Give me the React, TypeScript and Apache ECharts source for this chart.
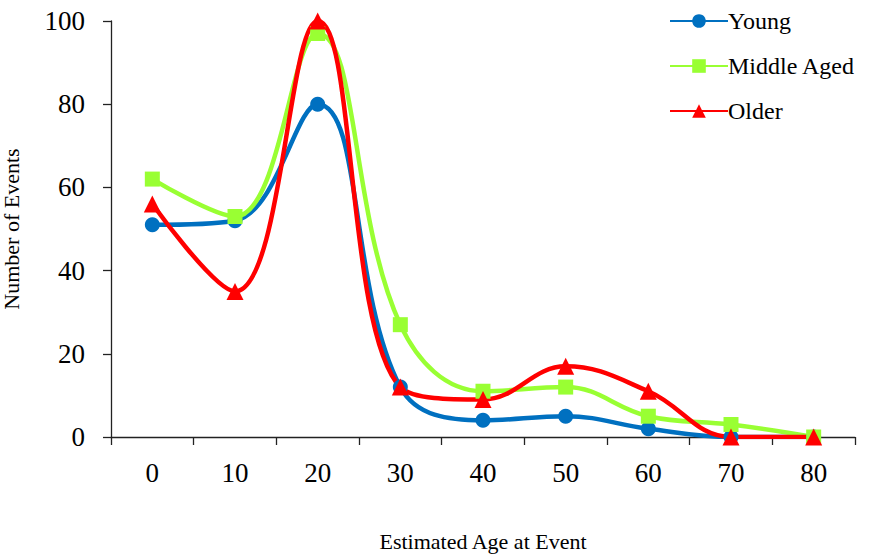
import React, { useEffect, useRef } from "react";
import * as echarts from "echarts";

const categories = ["0", "10", "20", "30", "40", "50", "60", "70", "80"];
const young = [51, 52, 80, 12, 4, 5, 2, 0, 0];
const middleAged = [62, 53, 97, 27, 11, 12, 5, 3, 0];
const older = [56, 35, 100, 12, 9, 17, 11, 0, 0];

const FONT = "Liberation Serif";

export default function App() {
  const ref = useRef<HTMLDivElement>(null);
  useEffect(() => {
    if (!ref.current) return;
    const chart = echarts.init(ref.current, undefined, { renderer: "svg" });
    const mk = (name: string, data: number[], color: string, symbol: string, size: number) => ({
      name,
      type: "line",
      data,
      smooth: 0.4,
      symbol,
      symbolSize: size,
      lineStyle: { color, width: 4.5 },
      itemStyle: { color },
    });
    chart.setOption({
      animation: false,
      textStyle: { fontFamily: FONT },
      grid: { left: 111, right: 14, top: 21, bottom: 117, containLabel: false, outerBoundsMode: "none" },
      legend: {
        orient: "vertical",
        left: 664,
        top: 4,
        itemWidth: 58,
        itemHeight: 17,
        itemGap: 21,
        textStyle: { fontFamily: FONT, fontSize: 24, color: "#000", padding: [0, 0, 0, -5] },
        data: ["Young", "Middle Aged", "Older"],
      },
      xAxis: {
        type: "category",
        data: categories,
        boundaryGap: true,
        name: "Estimated Age at Event",
        nameLocation: "middle",
        nameGap: 93,
        nameTextStyle: { fontFamily: FONT, fontSize: 22, color: "#000" },
        axisLine: { lineStyle: { color: "#222", width: 1.3 } },
        axisTick: { show: true, length: 8, lineStyle: { color: "#222", width: 1.3 } },
        axisLabel: { fontFamily: FONT, fontSize: 27, color: "#000", margin: 22, interval: 0 },
        splitLine: { show: false },
      },
      yAxis: {
        type: "value",
        min: 0,
        max: 100,
        interval: 20,
        name: "Number of Events",
        nameLocation: "middle",
        nameGap: 89,
        nameTextStyle: { fontFamily: FONT, fontSize: 22, color: "#000" },
        axisLine: { show: true, lineStyle: { color: "#222", width: 1.3 } },
        axisTick: { show: true, length: 8, lineStyle: { color: "#222", width: 1.3 } },
        axisLabel: { fontFamily: FONT, fontSize: 27, color: "#000", margin: 26 },
        splitLine: { show: false },
      },
      series: [
        mk("Young", young, "#0070C0", "circle", 15),
        mk("Middle Aged", middleAged, "#99FF33", "rect", 15),
        mk("Older", older, "#FF0000", "triangle", 17),
      ],
    });
    return () => chart.dispose();
  }, []);
  return (
    <div
      ref={ref}
      style={{
        width: 869,
        height: 554,
        position: "absolute",
        left: 0,
        top: 0,
        fontFamily: "'Liberation Serif', serif",
      }}
    />
  );
}
